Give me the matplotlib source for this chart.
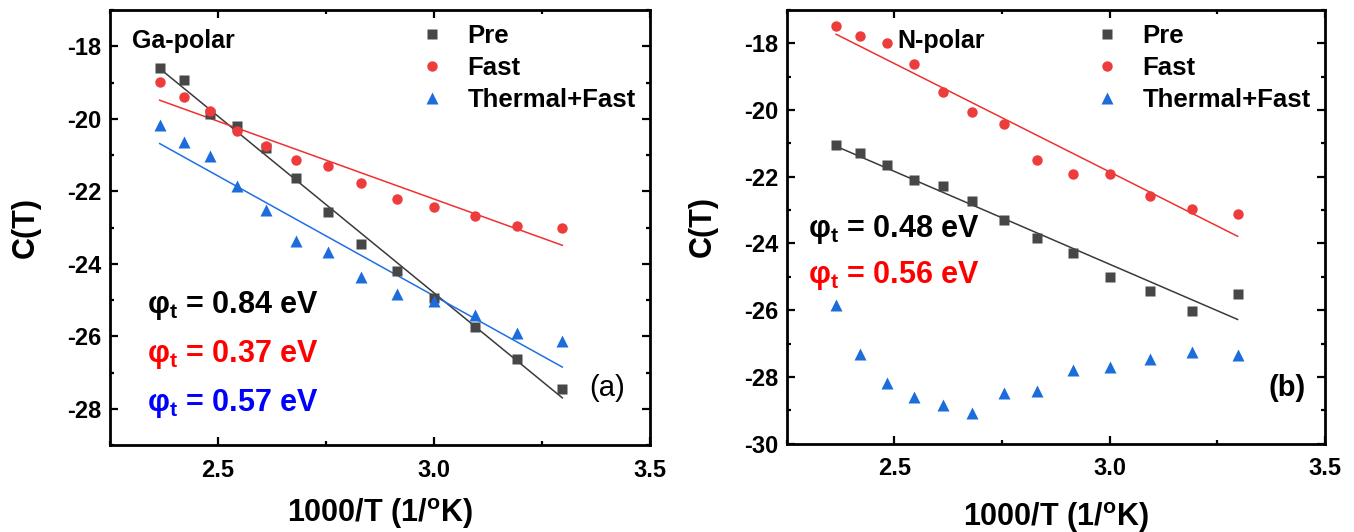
import matplotlib
matplotlib.use("Agg")
import matplotlib.pyplot as plt
from matplotlib.ticker import MultipleLocator
import numpy as np

plt.rcParams['font.family'] = ['Liberation Sans', 'DejaVu Sans']
plt.rcParams['font.weight'] = 'bold'
plt.rcParams['axes.labelweight'] = 'bold'
plt.rcParams['axes.unicode_minus'] = False
plt.rcParams['mathtext.fontset'] = 'custom'
plt.rcParams['mathtext.rm'] = 'Liberation Sans:bold'
plt.rcParams['mathtext.bf'] = 'Liberation Sans:bold'
plt.rcParams['mathtext.it'] = 'Liberation Sans:bold'
plt.rcParams['mathtext.default'] = 'regular'

# 1000/T (1/K), same temperature steps for both samples
inv_T = [2.365, 2.421, 2.482, 2.545, 2.612, 2.681, 2.754,
         2.831, 2.914, 3.001, 3.094, 3.192, 3.297]

# Ga-polar
ga_pre = [-18.59, -18.93, -19.87, -20.20, -20.82, -21.63, -22.56,
          -23.46, -24.20, -24.95, -25.75, -26.63, -27.46]
ga_fast = [-18.99, -19.41, -19.78, -20.33, -20.75, -21.14, -21.29,
           -21.78, -22.20, -22.44, -22.67, -22.95, -23.00]
ga_thermal = [-20.17, -20.63, -21.03, -21.85, -22.52, -23.37, -23.68,
              -24.36, -24.83, -25.03, -25.41, -25.92, -26.12]
ga_phi = {"Pre": 0.84, "Fast": 0.37, "Thermal+Fast": 0.57}

# N-polar
n_pre = [-21.05, -21.30, -21.65, -22.10, -22.27, -22.72, -23.30,
         -23.83, -24.28, -25.00, -25.42, -26.02, -25.50]
n_fast = [-17.48, -17.78, -17.98, -18.63, -19.45, -20.05, -20.43,
          -21.50, -21.93, -21.93, -22.58, -22.97, -23.12]
n_thermal = [-25.85, -27.32, -28.18, -28.60, -28.85, -29.07, -28.47,
             -28.42, -27.80, -27.70, -27.45, -27.25, -27.35]
n_phi = {"Pre": 0.48, "Fast": 0.56}

K_B = 8.617e-5  # eV/K

stil = {
    "Pre": dict(marker='s', color='#474747', ms=7.0, line='#3a3a3a', text='black'),
    "Fast": dict(marker='o', color='#ee3b3b', ms=7.5, line='#f03030', text='#ff0000'),
    "Thermal+Fast": dict(marker='^', color='#1d6cdc', ms=8.5, line='#1f6fe6', text='#0000ff'),
}


def fit_linie(ax, x, y, phi, farbe):
    # slope fixed by the trap energy, line through the centroid of the points
    x = np.asarray(x)
    y = np.asarray(y)
    steigung = -phi / (K_B * 1000)
    achse = y.mean() - steigung * x.mean()
    xx = np.array([x.min(), x.max()])
    ax.plot(xx, achse + steigung * xx, color=farbe, lw=1.1, zorder=2)


def plot_panel(ax, reihen, phis, ylim, titel, titel_x, panel, panel_bold,
               phi_pos, xlabelpad):
    for name, y in reihen.items():
        s = stil[name]
        ax.plot(inv_T, y, ls='none', marker=s['marker'], color=s['color'],
                ms=s['ms'], mec='none', label=name, zorder=3)
    for name, phi in phis.items():
        fit_linie(ax, inv_T, reihen[name], phi, stil[name]['line'])

    ax.set_xlim(2.25, 3.5)
    ax.set_ylim(*ylim)
    ax.xaxis.set_major_locator(MultipleLocator(0.5))
    ax.xaxis.set_minor_locator(MultipleLocator(0.25))
    ax.yaxis.set_major_locator(MultipleLocator(2))
    ax.yaxis.set_minor_locator(MultipleLocator(1))
    ax.tick_params(which='both', direction='in', top=True, right=True, width=1.6)
    ax.tick_params(which='major', length=6)
    ax.tick_params(which='minor', length=3)
    ax.tick_params(axis='x', which='major', labelsize=17, pad=10)
    ax.tick_params(axis='y', which='major', labelsize=17, pad=6)
    for lab in ax.get_xticklabels() + ax.get_yticklabels():
        lab.set_fontweight('bold')
    for sp in ax.spines.values():
        sp.set_linewidth(2.0)

    ax.set_xlabel(r'1000/T (1/$^{\mathbf{o}}$K)', fontsize=22,
                  fontweight='bold', labelpad=xlabelpad)
    ax.set_ylabel('C(T)', fontsize=22, fontweight='bold', labelpad=19)

    ax.text(titel_x, 0.913, titel, transform=ax.transAxes, fontsize=18,
            ha='left', va='baseline')
    ax.text(panel[0], panel[1], panel[2], transform=ax.transAxes, fontsize=21,
            fontweight='bold' if panel_bold else 'normal', ha='center', va='center')

    x0, y0, dy = phi_pos
    for i, (name, phi) in enumerate(phis.items()):
        ax.text(x0, y0 - i * dy, r'$\varphi_{t}$' + f' = {phi:.2f} eV',
                transform=ax.transAxes, fontsize=22, color=stil[name]['text'],
                ha='left', va='baseline')

    leg = ax.legend(loc='upper right', frameon=False, fontsize=18.5,
                    handlelength=1.0, handletextpad=0.9, labelspacing=0.3,
                    borderpad=0.0, borderaxespad=0.55, markerscale=1.0)
    return leg


fig = plt.figure(figsize=(13.54, 5.32), dpi=100)
ax1 = fig.add_axes([110 / 1354, 1 - 445 / 532, 540 / 1354, 435 / 532])
ax2 = fig.add_axes([786.6 / 1354, 1 - 443.6 / 532, 538.4 / 1354, 433.6 / 532])

plot_panel(ax1, {"Pre": ga_pre, "Fast": ga_fast, "Thermal+Fast": ga_thermal},
           ga_phi, (-29, -17), "Ga-polar", 0.040, (0.920, 0.131, "(a)"), False,
           (0.069, 0.303, 0.112), 10)
plot_panel(ax2, {"Pre": n_pre, "Fast": n_fast, "Thermal+Fast": n_thermal},
           n_phi, (-30, -17), "N-polar", 0.205, (0.929, 0.128, "(b)"), True,
           (0.040, 0.477, 0.107), 14)

fig.savefig("out.png", dpi=100, facecolor='white')
